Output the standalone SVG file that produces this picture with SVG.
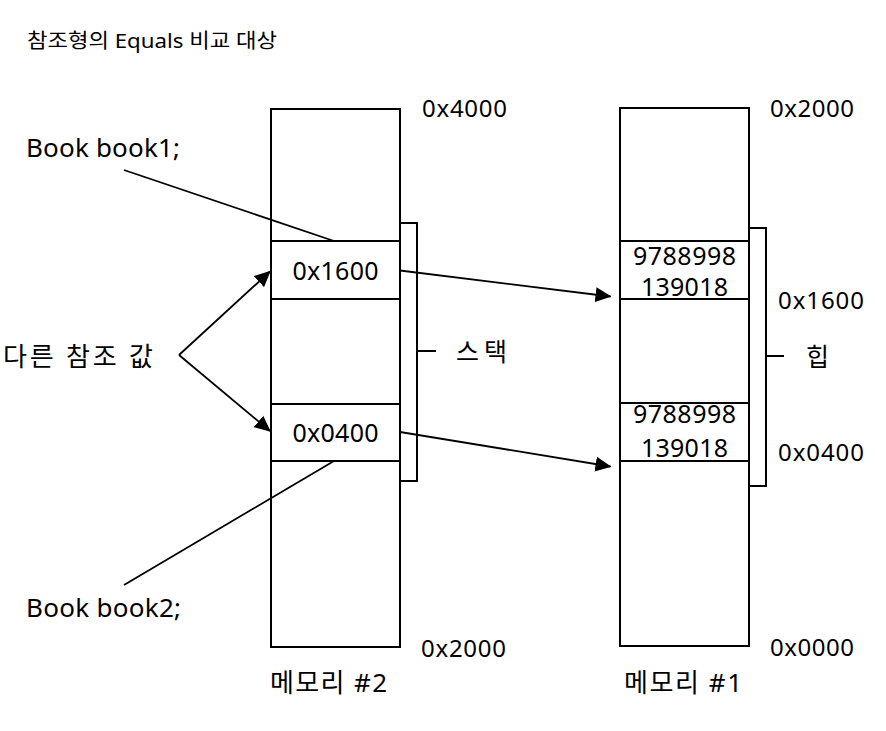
<svg xmlns="http://www.w3.org/2000/svg" width="886" height="731" viewBox="0 0 886 731">
<style>
text{font-family:"Noto Sans","Noto Sans CJK KR",sans-serif;fill:#000}
.t{font-size:20px}
.l{font-size:24px}
.b{font-size:26px}
.m{font-size:25px}
.c{text-anchor:middle}
.box{fill:#fff;stroke:#000;stroke-width:2}
.ln{fill:none;stroke:#000;stroke-width:2}
.ar{fill:none;stroke:#000;stroke-width:1.8}
</style>
<defs>
<marker id="ah" markerUnits="userSpaceOnUse" markerWidth="16" markerHeight="16" viewBox="0 0 16 16" refX="15" refY="8" orient="auto">
<path d="M0,0.5 L16,8 L0,15.5 Z" fill="#000"/>
</marker>
</defs>
<rect width="886" height="731" fill="#fff"/>
<text class="t" x="27" y="48" textLength="250" lengthAdjust="spacingAndGlyphs">참조형의 Equals 비교 대상</text>

<g id="memory2">
<rect class="box" x="271" y="109" width="129" height="538"/>
<line class="ln" x1="271" y1="241" x2="400" y2="241"/>
<line class="ln" x1="271" y1="299" x2="400" y2="299"/>
<line class="ln" x1="271" y1="404" x2="400" y2="404"/>
<line class="ln" x1="271" y1="461" x2="400" y2="461"/>
<text class="m c" x="335.5" y="280" textLength="86">0x1600</text>
<text class="m c" x="335.5" y="442" textLength="86">0x0400</text>
<text class="l" x="422" y="117" textLength="85">0x4000</text>
<text class="l" x="421" y="657" textLength="85">0x2000</text>
<text class="b" x="270" y="692" textLength="117">메모리 #2</text>
</g>

<g id="stack">
<path class="ln" d="M400,223 H417 V481 H400 M417,351 H436"/>
<text class="m" x="456" y="361" textLength="51">스택</text>
</g>

<g id="memory1">
<rect class="box" x="620" y="108" width="129" height="538"/>
<line class="ln" x1="620" y1="241" x2="749" y2="241"/>
<line class="ln" x1="620" y1="299" x2="749" y2="299"/>
<line class="ln" x1="620" y1="403" x2="749" y2="403"/>
<line class="ln" x1="620" y1="461" x2="749" y2="461"/>
<text class="m c" x="684.5" y="265" textLength="103">9788998</text>
<text class="m c" x="684.5" y="296" textLength="87">139018</text>
<text class="m c" x="684.5" y="423" textLength="103">9788998</text>
<text class="m c" x="684.5" y="457" textLength="87">139018</text>
<text class="l" x="770" y="117" textLength="84">0x2000</text>
<text class="l" x="770" y="656" textLength="84">0x0000</text>
<text class="l" x="778" y="309" textLength="86">0x1600</text>
<text class="l" x="778" y="461" textLength="86">0x0400</text>
<text class="b" x="624" y="692" textLength="118">메모리 #1</text>
</g>

<g id="heap">
<path class="ln" d="M749,228 H766 V486 H749 M766,356 H784"/>
<text class="m" x="806" y="366" textLength="23">힙</text>
</g>

<g id="book1">
<text class="b" x="26" y="157" textLength="154">Book book1;</text>
</g>
<g id="book2">
<text class="b" x="26" y="617" textLength="155">Book book2;</text>
</g>
<g id="diffref">
<text class="b" x="3" y="366" textLength="150">다른 참조 값</text>
</g>

<g id="connectors">
<line class="ar" x1="124" y1="170" x2="334" y2="241"/>
<line class="ar" x1="124" y1="585" x2="334" y2="461"/>
<path class="ar" d="M179,355 L270,271.5" marker-end="url(#ah)"/>
<path class="ar" d="M179,355 L270,431" marker-end="url(#ah)"/>
<path class="ar" d="M400,270.5 L610.5,296.5" marker-end="url(#ah)"/>
<path class="ar" d="M400,432 L610.5,466.5" marker-end="url(#ah)"/>
</g>
</svg>
